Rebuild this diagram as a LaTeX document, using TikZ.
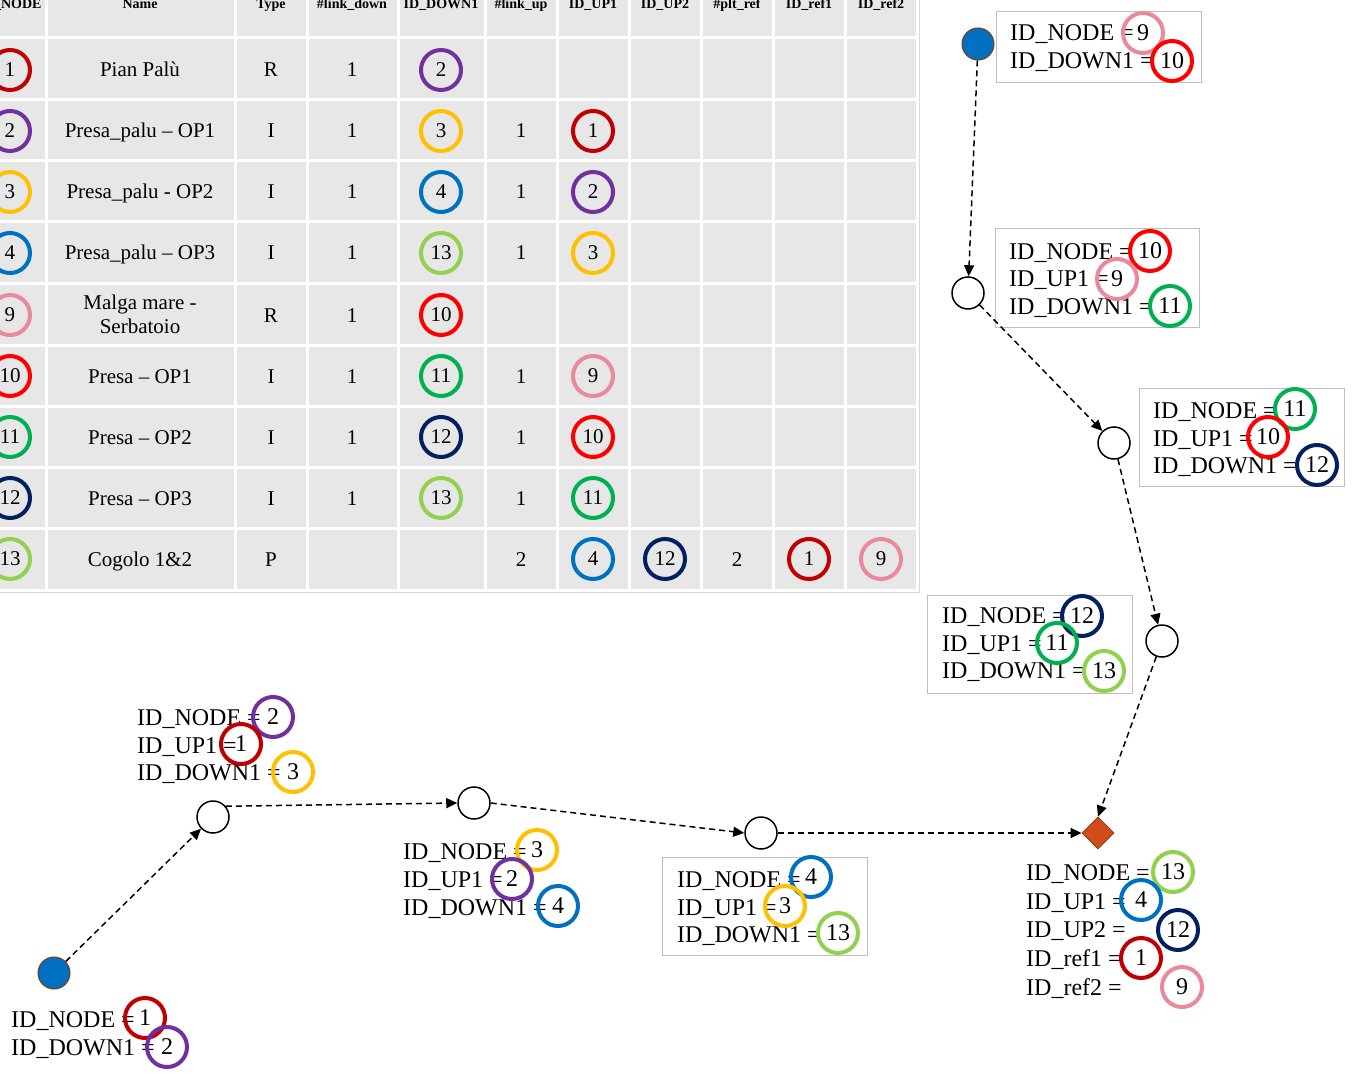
\documentclass[tikz,border=0pt]{standalone}
\usepackage{fontspec}
\setmainfont{Liberation Serif}
\usetikzlibrary{arrows.meta,shapes.geometric}
\definecolor{cA}{HTML}{C00000}
\definecolor{cB}{HTML}{7030A0}
\definecolor{cC}{HTML}{FFC000}
\definecolor{cD}{HTML}{0070C0}
\definecolor{cI}{HTML}{EA889C}
\definecolor{cJ}{HTML}{FF0000}
\definecolor{cK}{HTML}{00B050}
\definecolor{cL}{HTML}{002060}
\definecolor{cM}{HTML}{92D050}
\definecolor{tabgray}{HTML}{E7E7E7}
\definecolor{boxgray}{HTML}{BFBFBF}
\definecolor{diamfill}{HTML}{D24B1A}
\definecolor{brownedge}{HTML}{843C0C}
\newcommand\lblsz{\fontsize{24}{28}\selectfont}
\newcommand\tabsz{\fontsize{21}{24}\selectfont}
\newcommand\hdrsz{\fontsize{14}{16}\selectfont\bfseries}
\begin{document}
\begin{tikzpicture}[x=1pt,y=-1pt,
  ring/.style={circle, draw=#1, line width=4pt, minimum size=40pt, inner sep=0pt},
  lring/.style={ring=#1, font=\lblsz},
  tring/.style={ring=#1, font=\tabsz},
  lbl/.style={anchor=base west, font=\lblsz, inner sep=0pt},
  tcell/.style={anchor=base, font=\tabsz, inner sep=0pt},
  hdr/.style={anchor=base, font=\hdrsz, inner sep=0pt},
  lbox/.style={draw=boxgray, line width=1pt, fill=white, inner sep=0pt},
  plain/.style={circle, draw=black, line width=1.5pt, fill=white, minimum size=32pt, inner sep=0pt},
  source/.style={circle, draw=brownedge, line width=1pt, fill=cD, minimum size=32pt, inner sep=0pt},
  plant/.style={diamond, draw=brownedge, line width=0.8pt, fill=diamfill, minimum width=32pt, minimum height=32pt, inner sep=0pt},
  flow/.style={draw=black, line width=1.5pt, dash pattern=on 6pt off 4pt, -{Triangle[length=11pt,width=10pt]}}
]
\useasboundingbox (0,0) rectangle (1355,1078);
\clip (0,0) rectangle (1355,1078);
\fill[white] (0,0) rectangle (1355,1078);

% ---------------- table ----------------
\fill[tabgray] (-60,-60) rectangle (917,590);
\foreach \x in {46,235,307,398,485,557,629,701,773,845,917}
  \draw[white, line width=3pt] (\x,-60) -- (\x,590);
\foreach \y in {38,100,161,222,283,345,406,467,528,590}
  \draw[white, line width=3pt] (-60,\y) -- (917,\y);
\draw[boxgray!60, line width=1pt] (919,-60) -- (919,592) -- (-60,592);

\node[hdr] (h0) at (10,9) {ID\_NODE};
\node[hdr] (h1) at (140,9) {Name};
\node[hdr] (h2) at (271,9) {Type};
\node[hdr] (h3) at (352,9) {\#link\_down};
\node[hdr] (h4) at (441,9) {ID\_DOWN1};
\node[hdr] (h5) at (521,9) {\#link\_up};
\node[hdr] (h6) at (593,9) {ID\_UP1};
\node[hdr] (h7) at (665,9) {ID\_UP2};
\node[hdr] (h8) at (737,9) {\#plt\_ref};
\node[hdr] (h9) at (809,9) {ID\_ref1};
\node[hdr] (h10) at (881,9) {ID\_ref2};

% row 1
\node[tring=cA] (r1id) at (10,70) {1};
\node[tcell] (r1nm) at (140,77) {Pian Palù};
\node[tcell] (r1ty) at (271,77) {R};
\node[tcell] (r1ld) at (352,77) {1};
\node[tring=cB] (r1dn) at (441,70) {2};
% row 2
\node[tring=cB] (r2id) at (10,131) {2};
\node[tcell] (r2nm) at (140,138) {Presa\_palu – OP1};
\node[tcell] (r2ty) at (271,138) {I};
\node[tcell] (r2ld) at (352,138) {1};
\node[tring=cC] (r2dn) at (441,131) {3};
\node[tcell] (r2lu) at (521,138) {1};
\node[tring=cA] (r2up) at (593,131) {1};
% row 3
\node[tring=cC] (r3id) at (10,192) {3};
\node[tcell] (r3nm) at (140,199) {Presa\_palu - OP2};
\node[tcell] (r3ty) at (271,199) {I};
\node[tcell] (r3ld) at (352,199) {1};
\node[tring=cD] (r3dn) at (441,192) {4};
\node[tcell] (r3lu) at (521,199) {1};
\node[tring=cB] (r3up) at (593,192) {2};
% row 4
\node[tring=cD] (r4id) at (10,253) {4};
\node[tcell] (r4nm) at (140,260) {Presa\_palu – OP3};
\node[tcell] (r4ty) at (271,260) {I};
\node[tcell] (r4ld) at (352,260) {1};
\node[tring=cM] (r4dn) at (441,253) {13};
\node[tcell] (r4lu) at (521,260) {1};
\node[tring=cC] (r4up) at (593,253) {3};
% row 9
\node[tring=cI] (r9id) at (10,315) {9};
\node[font=\tabsz, align=center, inner sep=0pt] (r9nm) at (140,314) {Malga mare -\\Serbatoio};
\node[tcell] (r9ty) at (271,322) {R};
\node[tcell] (r9ld) at (352,322) {1};
\node[tring=cJ] (r9dn) at (441,315) {10};
% row 10
\node[tring=cJ] (r10id) at (10,376) {10};
\node[tcell] (r10nm) at (140,383) {Presa – OP1};
\node[tcell] (r10ty) at (271,383) {I};
\node[tcell] (r10ld) at (352,383) {1};
\node[tring=cK] (r10dn) at (441,376) {11};
\node[tcell] (r10lu) at (521,383) {1};
\node[tring=cI] (r10up) at (593,376) {9};
% row 11
\node[tring=cK] (r11id) at (10,437) {11};
\node[tcell] (r11nm) at (140,444) {Presa – OP2};
\node[tcell] (r11ty) at (271,444) {I};
\node[tcell] (r11ld) at (352,444) {1};
\node[tring=cL] (r11dn) at (441,437) {12};
\node[tcell] (r11lu) at (521,444) {1};
\node[tring=cJ] (r11up) at (593,437) {10};
% row 12
\node[tring=cL] (r12id) at (10,498) {12};
\node[tcell] (r12nm) at (140,505) {Presa – OP3};
\node[tcell] (r12ty) at (271,505) {I};
\node[tcell] (r12ld) at (352,505) {1};
\node[tring=cM] (r12dn) at (441,498) {13};
\node[tcell] (r12lu) at (521,505) {1};
\node[tring=cK] (r12up) at (593,498) {11};
% row 13
\node[tring=cM] (r13id) at (10,559) {13};
\node[tcell] (r13nm) at (140,566) {Cogolo 1\&2};
\node[tcell] (r13ty) at (271,566) {P};
\node[tcell] (r13lu) at (521,566) {2};
\node[tring=cD] (r13up) at (593,559) {4};
\node[tring=cL] (r13up2) at (665,559) {12};
\node[tcell] (r13pr) at (737,566) {2};
\node[tring=cA] (r13f1) at (809,559) {1};
\node[tring=cI] (r13f2) at (881,559) {9};

% ---------------- label boxes ----------------
\node[lbox, minimum width=205pt, minimum height=71pt] (b9) at (1098.5,47.5) {};
\node[lbox, minimum width=204pt, minimum height=98pt] (b10) at (1097,278) {};
\node[lbox, minimum width=205pt, minimum height=98pt] (b11) at (1241.5,437) {};
\node[lbox, minimum width=205pt, minimum height=98pt] (b12) at (1029.5,644) {};
\node[lbox, minimum width=205pt, minimum height=98pt] (b4) at (764.5,906) {};

% ---------------- graph nodes ----------------
\node[source] (n9) at (978,44) {};
\node[plain] (n10) at (968,293) {};
\node[plain] (n11) at (1114,443) {};
\node[plain] (n12) at (1162,641) {};
\node[plant] (n13) at (1098,833) {};
\node[source] (n1) at (54,973) {};
\node[plain] (n2) at (213,817) {};
\node[plain] (n3) at (474,803) {};
\node[plain] (n4) at (761,833) {};

\draw[flow] (n9) -- (n10);
\draw[flow] (n10) -- (n11);
\draw[flow] (n11) -- (n12);
\draw[flow] (n12) -- (n13.north);
\draw[flow] (n1) -- (n2);
\draw[flow] (n2.40) -- (n3.west);
\draw[flow] (n3.east) -- (n4.west);
\draw[flow] (n4.east) -- (n13.west);

% ---------------- label texts ----------------
% node 9
\node[lbl] (l9a) at (1010,41) {ID\_NODE =};
\node[lbl] (l9b) at (1010,69) {ID\_DOWN1 =};
% node 10
\node[lbl] (l10a) at (1009,259) {ID\_NODE =};
\node[lbl] (l10b) at (1009,287) {ID\_UP1 =};
\node[lbl] (l10c) at (1009,314) {ID\_DOWN1 =};
% node 11
\node[lbl] (l11a) at (1153,418) {ID\_NODE =};
\node[lbl] (l11b) at (1153,446) {ID\_UP1 =};
\node[lbl] (l11c) at (1153,473) {ID\_DOWN1 =};
% node 12
\node[lbl] (l12a) at (942,623) {ID\_NODE =};
\node[lbl] (l12b) at (942,651) {ID\_UP1 =};
\node[lbl] (l12c) at (942,678) {ID\_DOWN1 =};
% node 2
\node[lbl] (l2a) at (137,725) {ID\_NODE =};
\node[lbl] (l2b) at (137,753) {ID\_UP1 =};
\node[lbl] (l2c) at (137,780) {ID\_DOWN1 =};
% node 3
\node[lbl] (l3a) at (403,859) {ID\_NODE =};
\node[lbl] (l3b) at (403,887) {ID\_UP1 =};
\node[lbl] (l3c) at (403,915) {ID\_DOWN1 =};
% node 4
\node[lbl] (l4a) at (677,887) {ID\_NODE =};
\node[lbl] (l4b) at (677,915) {ID\_UP1 =};
\node[lbl] (l4c) at (677,942) {ID\_DOWN1 =};
% node 13
\node[lbl] (l13a) at (1026,880) {ID\_NODE =};
\node[lbl] (l13b) at (1026,909) {ID\_UP1 =};
\node[lbl] (l13c) at (1026,937) {ID\_UP2 =};
\node[lbl] (l13d) at (1026,966) {ID\_ref1 =};
\node[lbl] (l13e) at (1026,995) {ID\_ref2 =};
% node 1
\node[lbl] (l1a) at (11,1027) {ID\_NODE =};
\node[lbl] (l1b) at (11,1055) {ID\_DOWN1 =};

% ---------------- label rings ----------------
\node[lring=cI] (q9a) at (1143,33) {9};
\node[lring=cJ] (q9b) at (1172,61) {10};
\node[lring=cJ] (q10a) at (1150,251) {10};
\node[lring=cI] (q10b) at (1117,279) {9};
\node[lring=cK] (q10c) at (1170,306) {11};
\node[lring=cK] (q11a) at (1295,409) {11};
\node[lring=cJ] (q11b) at (1268,437) {10};
\node[lring=cL] (q11c) at (1317,465) {12};
\node[lring=cL] (q12a) at (1082,616) {12};
\node[lring=cK] (q12b) at (1057,643) {11};
\node[lring=cM] (q12c) at (1104,671) {13};
\node[lring=cB] (q2a) at (273,717) {2};
\node[lring=cA] (q2b) at (241,744) {1};
\node[lring=cC] (q2c) at (293,772) {3};
\node[lring=cC] (q3a) at (537,850) {3};
\node[lring=cB] (q3b) at (512,879) {2};
\node[lring=cD] (q3c) at (558,906) {4};
\node[lring=cD] (q4a) at (811,877) {4};
\node[lring=cC] (q4b) at (785,906) {3};
\node[lring=cM] (q4c) at (838,933) {13};
\node[lring=cM] (q13a) at (1173,872) {13};
\node[lring=cD] (q13b) at (1141,900) {4};
\node[lring=cL] (q13c) at (1178,930) {12};
\node[lring=cA] (q13d) at (1141,958) {1};
\node[lring=cI] (q13e) at (1182,987) {9};
\node[lring=cA] (q1a) at (145,1018) {1};
\node[lring=cB] (q1b) at (167,1047) {2};
\end{tikzpicture}
\end{document}
